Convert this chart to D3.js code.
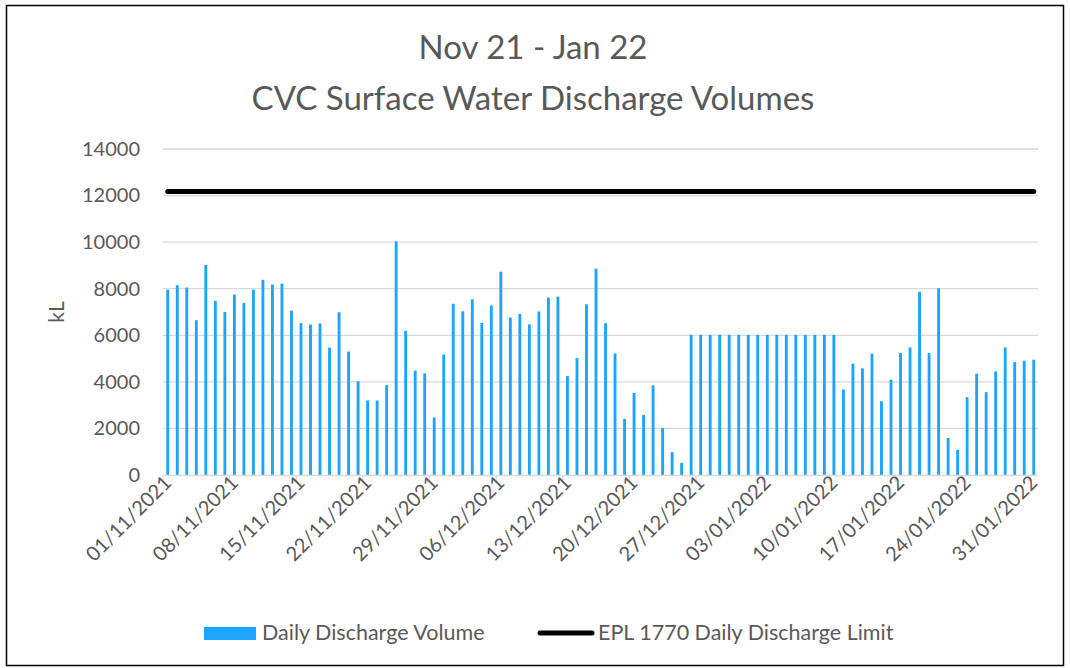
<!DOCTYPE html>
<html>
<head>
<meta charset="utf-8">
<script src="https://cdn.jsdelivr.net/npm/d3@7"></script>
<style>
  body { margin: 0; background: #fff; }
  svg text { font-family: Lato, "Open Sans", sans-serif; fill: #595959; }
</style>
</head>
<body>
<div id="chart"></div>
<script>
// daily discharge, kL, 01/11/2021 .. 31/01/2022
const dailyVolume = [
  7960, 8150, 8050, 6650, 9020, 7480, 7000, 7750, 7390, 7960,
  8380, 8180, 8220, 7060, 6530, 6460, 6510, 5470, 6990, 5300,
  4020, 3200, 3200, 3860, 10030, 6190, 4480, 4360, 2470, 5180,
  7350, 7030, 7550, 6530, 7280, 8730, 6760, 6920, 6470, 7020,
  7620, 7660, 4250, 5020, 7330, 8860, 6520, 5220, 2410, 3520,
  2580, 3850, 2020, 980, 520,
  6020, 6020, 6020, 6020, 6020, 6020, 6020, 6020,
  6020, 6020, 6020, 6020, 6020, 6020, 6020, 6020,
  3670, 4780, 4580, 5210, 3170, 4090, 5240, 5480, 7870, 5240,
  8020, 1590, 1080, 3340, 4350, 3560, 4450, 5480, 4850, 4910, 4950
];
const dischargeLimit = 12180;
const yTicks = [0, 2000, 4000, 6000, 8000, 10000, 12000, 14000];
const titleLines = ["Nov 21 - Jan 22", "CVC Surface Water Discharge Volumes"];
const seriesNames = ["Daily Discharge Volume", "EPL 1770 Daily Discharge Limit"];

const fmt = d3.timeFormat("%d/%m/%Y");
const days = d3.timeDay.range(new Date(2021, 10, 1), new Date(2022, 1, 1)).map(fmt);

const width = 1070, height = 668;
const plotL = 163, plotR = 1038.5, plotT = 149, plotB = 475;

const svg = d3.select("#chart").append("svg")
  .attr("width", width)
  .attr("height", height);

// outer frame
svg.append("rect")
  .attr("x", 6.5).attr("y", 5.5)
  .attr("width", 1057).attr("height", 660)
  .attr("fill", "#fff")
  .attr("stroke", "#000")
  .attr("stroke-width", 1.5);

const x = d3.scaleBand()
  .domain(days)
  .range([plotL, plotR])
  .paddingInner(0.7)
  .paddingOuter(0.35);

const y = d3.scaleLinear()
  .domain([0, 14000])
  .range([plotB, plotT]);

const step = x.step(), bw = x.bandwidth();
const center = d => x(d) + bw / 2;

// gridlines
svg.append("g")
  .selectAll("line")
  .data(yTicks.slice(1))
  .enter().append("line")
  .attr("x1", plotL).attr("x2", plotR)
  .attr("y1", d => y(d)).attr("y2", d => y(d))
  .attr("stroke", "#d9d9d9")
  .attr("stroke-width", 1.3);

// y axis labels
const yAxis = svg.append("g")
  .attr("transform", "translate(" + plotL + ",0)")
  .call(d3.axisLeft(y).tickValues(yTicks).tickSize(0).tickPadding(23).tickFormat(d3.format("d")));
yAxis.select(".domain").remove();
yAxis.selectAll("text")
  .style("font-size", "20px")
  .attr("fill", "#595959");

svg.append("text")
  .attr("transform", "translate(64," + ((plotT + plotB) / 2) + ") rotate(-90)")
  .attr("text-anchor", "middle")
  .style("font-size", "21px")
  .text("kL");

// bars
svg.append("g")
  .selectAll("rect")
  .data(dailyVolume)
  .enter().append("rect")
  .attr("x", (d, i) => x(days[i]))
  .attr("width", bw)
  .attr("y", d => y(d))
  .attr("height", d => y(0) - y(d))
  .attr("fill", "#1ca5ff");

// x axis
svg.append("line")
  .attr("x1", plotL).attr("x2", plotR)
  .attr("y1", plotB + 0.5).attr("y2", plotB + 0.5)
  .attr("stroke", "#d9d9d9")
  .attr("stroke-width", 1.3);

const weekDays = days.filter((d, i) => i % 7 === 0);

svg.append("g")
  .selectAll("line")
  .data(weekDays)
  .enter().append("line")
  .attr("x1", d => center(d) - step / 2).attr("x2", d => center(d) - step / 2)
  .attr("y1", plotB).attr("y2", plotB + 7)
  .attr("stroke", "#d9d9d9")
  .attr("stroke-width", 1.3);

const xAxis = svg.append("g")
  .attr("transform", "translate(0," + plotB + ")")
  .call(d3.axisBottom(x).tickValues(weekDays).tickSize(0).tickPadding(0));
xAxis.select(".domain").remove();
xAxis.selectAll("text")
  .style("font-size", "20px")
  .attr("fill", "#595959")
  .attr("text-anchor", "end")
  .attr("dy", null)
  .attr("y", 0)
  .attr("transform", "translate(5,9) rotate(-45)");

// limit line
svg.append("path")
  .datum(dailyVolume.map((d, i) => days[i]))
  .attr("fill", "none")
  .attr("stroke", "#000")
  .attr("stroke-width", 5)
  .attr("stroke-linecap", "round")
  .attr("d", d3.line().x(d => center(d)).y(() => y(dischargeLimit)));

// title
svg.append("g")
  .selectAll("text")
  .data(titleLines)
  .enter().append("text")
  .attr("x", 533)
  .attr("y", (d, i) => 59 + i * 51)
  .attr("text-anchor", "middle")
  .style("font-size", "33px")
  .text(d => d);

// legend
const legend = svg.append("g");
legend.append("rect")
  .attr("x", 204).attr("y", 627)
  .attr("width", 52).attr("height", 13)
  .attr("fill", "#1ca5ff");
legend.append("text")
  .attr("x", 262).attr("y", 640)
  .style("font-size", "21.5px")
  .text(seriesNames[0]);
legend.append("line")
  .attr("x1", 540).attr("x2", 592)
  .attr("y1", 633).attr("y2", 633)
  .attr("stroke", "#000")
  .attr("stroke-width", 5)
  .attr("stroke-linecap", "round");
legend.append("text")
  .attr("x", 598).attr("y", 640)
  .style("font-size", "21.5px")
  .text(seriesNames[1]);
</script>
</body>
</html>
